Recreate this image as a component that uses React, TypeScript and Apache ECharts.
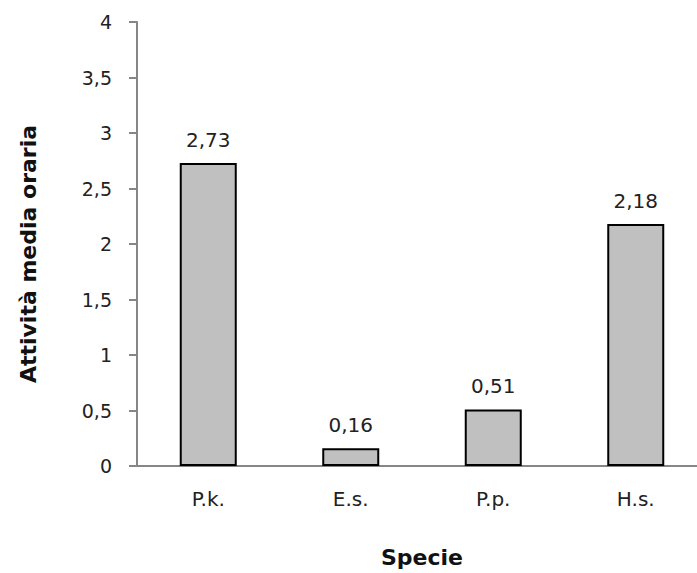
import React, { useEffect, useRef } from "react";
import * as echarts from "echarts";

const categories = ["P.k.", "E.s.", "P.p.", "H.s."];
const values = [2.73, 0.16, 0.51, 2.18];
const yTicks = { min: 0, max: 4, interval: 0.5 };
const yTitle = "Attività media oraria";
const xTitle = "Specie";

const fmt = (v: number) => String(v).replace(".", ",");

export default function App() {
  const ref = useRef<HTMLDivElement>(null);
  useEffect(() => {
    if (!ref.current) return;
    const chart = echarts.init(ref.current, undefined, { renderer: "svg" });
    const font = "DejaVu Sans";
    chart.setOption({
      animation: false,
      backgroundColor: "#ffffff",
      grid: { left: 137, top: 22, bottom: 107, right: 0, containLabel: false },
      graphic: [
        {
          type: "text",
          x: 28,
          y: 254,
          rotation: Math.PI / 2,
          style: {
            text: yTitle,
            fontFamily: font,
            fontWeight: "bold",
            fontSize: 22,
            fill: "#111",
            align: "center",
            verticalAlign: "middle",
          },
        },
      ],
      xAxis: {
        type: "category",
        data: categories,
        name: xTitle,
        nameLocation: "middle",
        nameGap: 80,
        nameTextStyle: { fontFamily: font, fontWeight: "bold", fontSize: 22, color: "#111", verticalAlign: "top" },
        axisLine: { lineStyle: { color: "#868686", width: 2 } },
        axisTick: { show: false },
        axisLabel: { fontFamily: font, fontSize: 20, color: "#222", margin: 23 },
      },
      yAxis: {
        type: "value",
        min: yTicks.min,
        max: yTicks.max,
        interval: yTicks.interval,
        splitLine: { show: false },
        axisLine: { show: true, lineStyle: { color: "#868686", width: 2 } },
        axisTick: { show: true, length: 8, lineStyle: { color: "#868686", width: 2 } },
        axisLabel: { fontFamily: font, fontSize: 19, color: "#222", margin: 25, formatter: (v: number) => fmt(v) },
      },
      series: [
        {
          type: "bar",
          data: values,
          barWidth: "40%",
          itemStyle: { color: "#c0c0c0", borderColor: "#000", borderWidth: 2 },
          label: {
            show: true,
            position: "top",
            distance: 13,
            fontFamily: font,
            fontSize: 20,
            color: "#222",
            formatter: (p: any) => fmt(p.value),
          },
        },
      ],
    });
    return () => chart.dispose();
  }, []);
  return (
    <div style={{ position: "fixed", left: 0, top: 0, width: 697, height: 573, overflow: "hidden" }}>
      <div ref={ref} style={{ width: 707, height: 573 }} />
    </div>
  );
}
